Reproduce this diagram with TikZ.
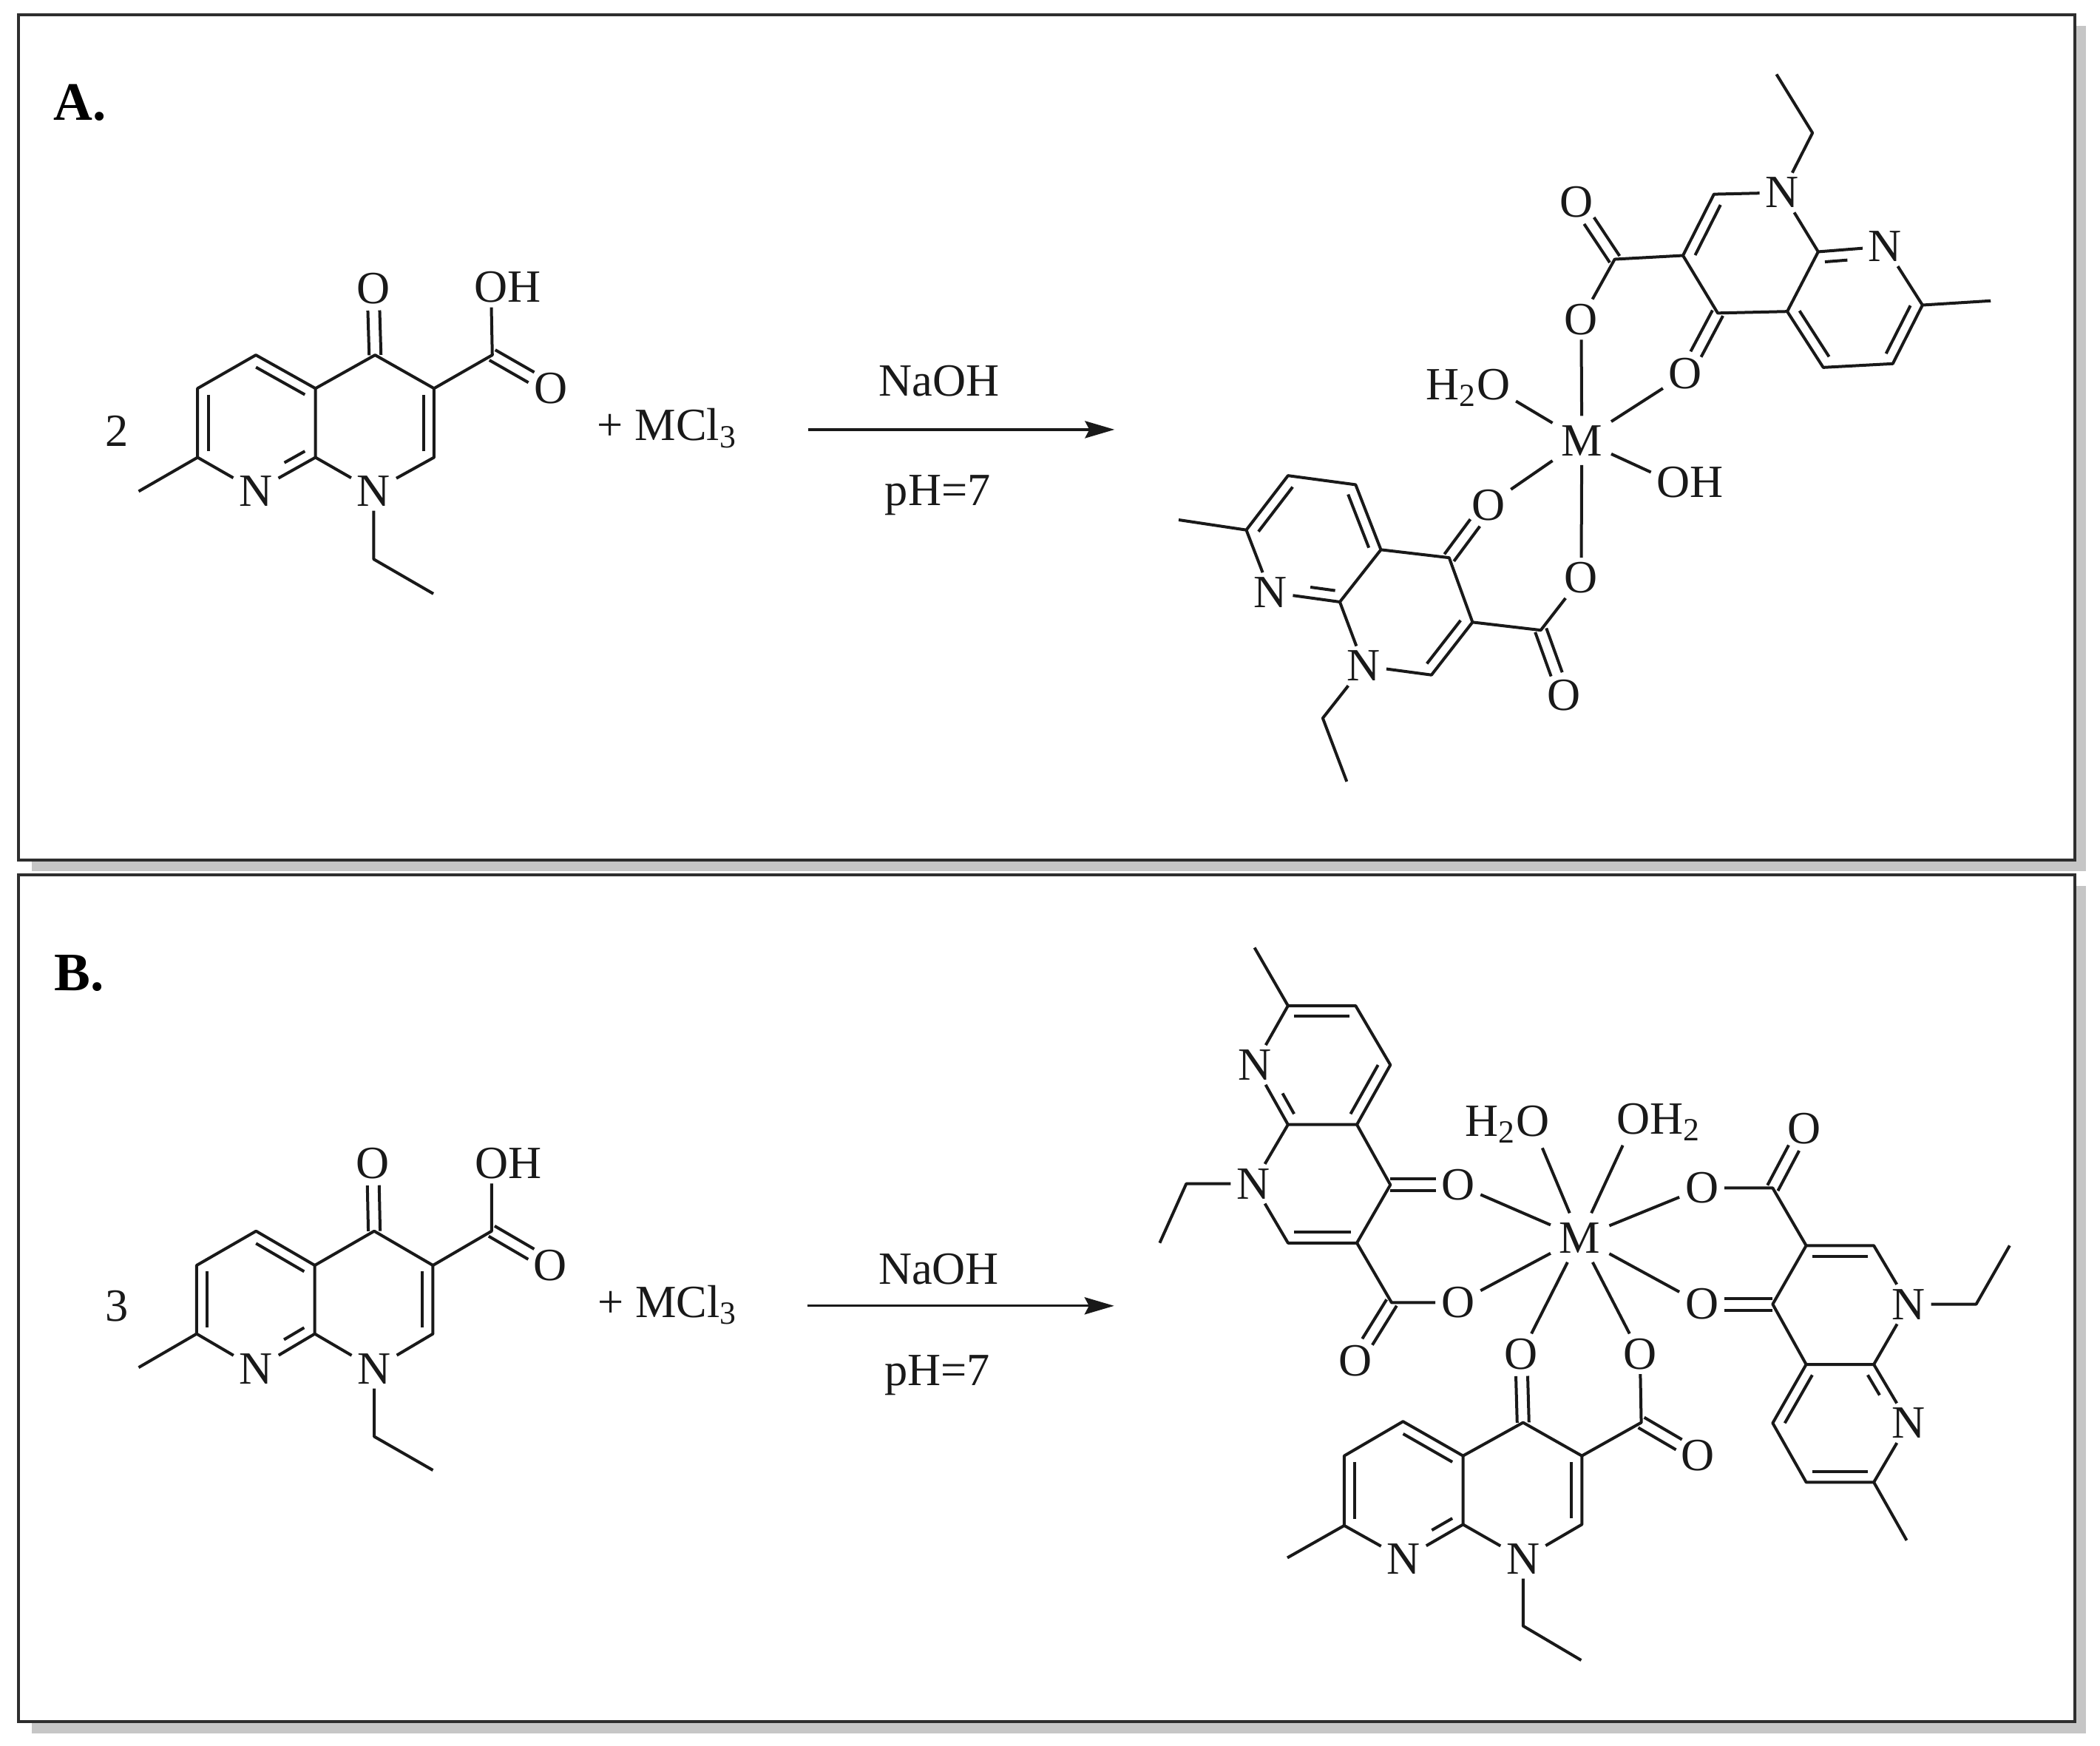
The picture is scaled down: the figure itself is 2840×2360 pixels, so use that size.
\documentclass[tikz,border=0pt]{standalone}
\usepackage{fontspec}
\setmainfont{Liberation Serif}
\usetikzlibrary{calc,arrows.meta}
\definecolor{framecol}{HTML}{2E2E2E}
\definecolor{shadowcol}{HTML}{C6C6C6}
\tikzset{
  chemtext/.style={font=\fontsize{15.6pt}{18pt}\selectfont,text=black!90,inner sep=0pt,outer sep=0pt},
  atom/.style={chemtext,inner xsep=2pt,inner ysep=1.6pt},
  metal/.style={chemtext,inner xsep=3pt,inner ysep=3.2pt},
  panellabel/.style={font=\fontsize{18.3pt}{20pt}\selectfont\bfseries,text=black,inner sep=0pt},
  bond/.style={line width=1pt,draw=black!90,line join=round},
  arrowline/.style={line width=0.8pt,draw=black!90,-{Stealth[length=10pt,width=5.8pt,inset=1.5pt]}},
  frameline/.style={line width=0.9pt,draw=framecol,fill=white},
  shadowbox/.style={fill=shadowcol,draw=none}
}
\newcommand\chemmol[3]{%
  \foreach \n/\x/\y in {#3}{\coordinate (#1\n) at (\x,\y);}
  \node[atom] (#1N8) at (#1n8) {N};
  \node[atom] (#1N1) at (#1n1) {N};
  \node[atom] (#1Ok) at (#1o4) {O};
  \node[atom] (#1Ox) at (#1ox) {O};
  \node[atom] (#1Oh) at (#1oh) {#2};
  \coordinate (#1ra) at ($(#1c6)!.5!(#1c8a)$);
  \coordinate (#1rb) at ($(#1c3)!.5!(#1c8a)$);
  \draw[bond] (#1me)--(#1c7)--(#1c6)--(#1c5)--(#1c4a)--(#1c8a)--(#1N8)--(#1c7);
  \draw[bond] (#1c8a)--(#1N1)--(#1c2)--(#1c3)--(#1c4)--(#1c4a);
  \draw[bond] (#1c3)--(#1cc)--(#1Oh);
  \draw[bond] (#1N1)--(#1e1)--(#1e2);
  \draw[bond] ($(#1c6)!.18!(#1ra)$)--($(#1c7)!.18!(#1ra)$);
  \draw[bond] ($(#1c5)!.18!(#1ra)$)--($(#1c4a)!.18!(#1ra)$);
  \draw[bond,shorten >=11pt] ($(#1c8a)!.18!(#1ra)$)--($(#1n8)!.18!(#1ra)$);
  \draw[bond] ($(#1c2)!.18!(#1rb)$)--($(#1c3)!.18!(#1rb)$);
  \draw[bond,shorten >=7.5pt] ($(#1c4)!2pt!90:(#1o4)$)--($(#1o4)!2pt!-90:(#1c4)$);
  \draw[bond,shorten >=7.5pt] ($(#1c4)!2pt!-90:(#1o4)$)--($(#1o4)!2pt!90:(#1c4)$);
  \draw[bond,shorten >=7.5pt] ($(#1cc)!2pt!90:(#1ox)$)--($(#1ox)!2pt!-90:(#1cc)$);
  \draw[bond,shorten >=7.5pt] ($(#1cc)!2pt!-90:(#1ox)$)--($(#1ox)!2pt!90:(#1cc)$);
}
\begin{document}
\begin{tikzpicture}[x=0.25pt,y=-0.25pt]
\useasboundingbox (0,0) rectangle (2840,2360);
\fill[white] (0,0) rectangle (2840,2360);
% frames
\fill[shadowbox] (43,35) rectangle (2821,1178);
\draw[frameline] (25,20) rectangle (2806,1163);
\fill[shadowbox] (43,1198) rectangle (2821,2344);
\draw[frameline] (25,1183) rectangle (2806,2328);
\node[panellabel] (labA) at (108,139) {A.};
\node[panellabel] (labB) at (107,1316) {B.};
% Panel A, reactant
\begin{scope}[x=0.22645pt,y=-0.18811pt]
\chemmol{Al}{O\rlap{H}}{me/207/883,c7/295/822,c6/295/698,c5/382/638,c4a/471/698,c8a/471/822,n8/382/882,n1/558/882,c2/648/822,c3/648/698,c4/560/638,o4/557/518,cc/735/638,oh/733/516,ox/822/698,e1/558/1005,e2/647/1067}
\node[chemtext] (coefA) at (175,775) {2};
\node[chemtext,anchor=base west] (saltA) at (892,792) {+ MCl\textsubscript{3}};
\node[chemtext,anchor=base] (baseA) at (1402,712) {NaOH};
\node[chemtext,anchor=base] (phA) at (1400,908) {pH=7};
\coordinate (arrAs) at (1207,772);
\coordinate (arrAe) at (1664,772);
\draw[arrowline] (arrAs)--(arrAe);
\end{scope}
% Panel A, complex
\begin{scope}[x=0.21366pt,y=-0.18017pt,shift={(375pt,-12.5pt)}]
\chemmol{At}{O}{me/1395/495,c7/1287/503,c6/1240/613,c5/1130/620,c4a/1073/515,c8a/1122/403,n8/1228/393,n1/1065/292,c2/957/295,c3/908/410,c4/963/518,o4/912/632,cc/800/417,ox/740/310,oh/747/530,e1/1113/180,e2/1056/70}
\chemmol{Ab}{O}{me/110/906,c7/217/925,c6/283/823,c5/390/840,c4a/430/962,c8a/365/1060,n8/255/1042,n1/403/1180,c2/510/1197,c3/575/1098,c4/538/977,o4/600/878,cc/683/1113,ox/720/1235,oh/747/1015,e1/338/1278,e2/376/1397}
\node[metal] (MA) at (748,757) {M};
\node[atom] (wA) at (608,658) {\llap{H\textsubscript{2}}O};
\node[atom] (hA) at (893,836) {O\rlap{H}};
\draw[bond] (MA)--(AtOh);
\draw[bond] (MA)--(AtOk);
\draw[bond] (MA)--(wA);
\draw[bond] (MA)--(hA);
\draw[bond] (MA)--(AbOk);
\draw[bond] (MA)--(AbOh);
\end{scope}
% Panel B, reactant
\begin{scope}[x=0.23917pt,y=-0.19292pt,shift={(0pt,-287.5pt)}]
\chemmol{Bl}{O\rlap{H}}{me/196/906,c7/278/847,c6/278/727,c5/362/667,c4a/445/727,c8a/445/847,n8/362/908,n1/529/908,c2/612/847,c3/612/727,c4/529/667,o4/527/548,cc/695/667,oh/695/548,ox/778/727,e1/529/1027,e2/612/1086}
\node[chemtext] (coefB) at (165,798) {3};
\node[chemtext,anchor=base west] (saltB) at (845,818) {+ MCl\textsubscript{3}};
\node[chemtext,anchor=base] (baseB) at (1327,760) {NaOH};
\node[chemtext,anchor=base] (phB) at (1325,938) {pH=7};
\coordinate (arrBs) at (1141,798);
\coordinate (arrBe) at (1575,798);
\draw[arrowline] (arrBs)--(arrBe);
\end{scope}
% Panel B, complex
\begin{scope}[x=0.21366pt,y=-0.17857pt,shift={(375pt,-310pt)}]
\chemmol{Ba}{O}{me/230/58,c7/283/168,c6/390/168,c5/445/280,c4a/392/393,c8a/283/393,n8/230/280,n1/228/505,c2/283/617,c3/392/617,c4/445/507,o4/552/507,cc/447/730,ox/390/840,oh/552/730,e1/122/505,e2/80/617}
\chemmol{Bb}{O}{me/1262/1180,c7/1210/1070,c6/1103/1070,c5/1050/958,c4a/1103/847,c8a/1210/847,n8/1265/958,n1/1265/733,c2/1210/622,c3/1103/622,c4/1050/733,o4/938/733,cc/1050/513,ox/1100/400,oh/938/513,e1/1372/733,e2/1425/622}
\chemmol{Bc}{O}{me/282/1213,c7/372/1152,c6/372/1020,c5/465/955,c4a/560/1020,c8a/560/1150,n8/466/1215,n1/655/1215,c2/748/1150,c3/748/1020,c4/655/957,o4/652/827,cc/842/957,ox/932/1020,oh/840/827,e1/655/1342,e2/747/1407}
\node[metal] (MB) at (745,607) {M};
\node[atom] (wB) at (670,393) {\llap{H\textsubscript{2}}O};
\node[atom] (hB) at (830,388) {O\rlap{H\textsubscript{2}}};
\draw[bond] (MB)--(wB);
\draw[bond] (MB)--(hB);
\draw[bond] (MB)--(BaOk);
\draw[bond] (MB)--(BaOh);
\draw[bond] (MB)--(BbOk);
\draw[bond] (MB)--(BbOh);
\draw[bond] (MB)--(BcOk);
\draw[bond] (MB)--(BcOh);
\end{scope}
\end{tikzpicture}
\end{document}
